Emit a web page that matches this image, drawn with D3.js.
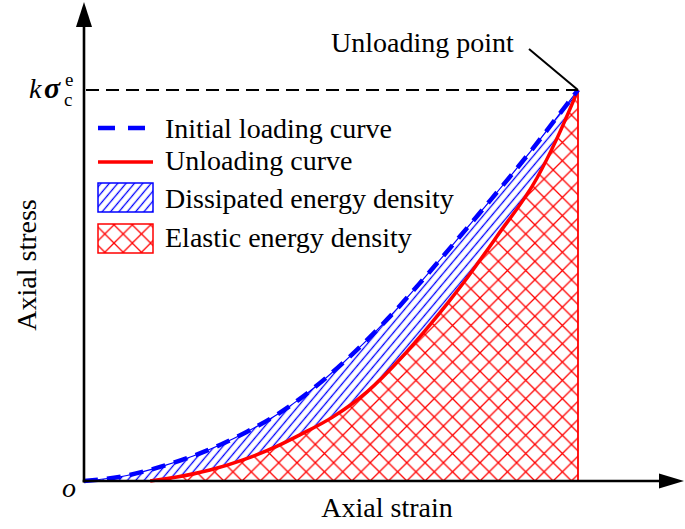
<!DOCTYPE html>
<html><head><meta charset="utf-8">
<script src="https://cdn.jsdelivr.net/npm/d3@7"></script>
<style>body{margin:0;background:#fff}svg{display:block}text{font-family:"Liberation Serif","Times New Roman",serif;fill:#000}</style>
</head><body><svg id="c" width="685" height="529"></svg>
<script>
// Data (normalised strain / stress, unloading point = 100,100)
const loadStrain = [0, 8.7, 15.4, 22.1, 27.5, 33.0, 39.1, 43.7, 49.2, 55.3, 59.3, 64.0, 68.6, 72.7, 80.8, 89.7, 97.8, 100];
const loadStress = [0, 1.4, 3.6, 6.4, 9.2, 12.6, 17.0, 21.0, 26.6, 33.6, 38.6, 44.9, 51.5, 57.5, 69.6, 83.2, 96.4, 100];
const unloadStrain = [13.4, 18.8, 25.5, 32.2, 39.1, 43.7, 50.4, 57.3, 64.0, 69.4, 73.5, 76.7, 83.6, 91.7, 95.7, 100];
const unloadStress = [0, 1.0, 2.8, 5.4, 8.9, 11.8, 16.4, 22.8, 31.2, 39.0, 45.3, 50.5, 62.6, 77.5, 87.5, 100];
const legendLabels = ["Initial loading curve", "Unloading curve", "Dissipated energy density", "Elastic energy density"];
const peakStrain = 100, peakStress = 100;

const svg = d3.select("#c");
const x = d3.scaleLinear().domain([0, 100]).range([84, 578]);
const y = d3.scaleLinear().domain([0, 100]).range([481, 90]);
const BLUE = "#0000ff", RED = "#ff0000";

const defs = svg.append("defs");
const hb = defs.append("pattern").attr("id", "hb").attr("patternUnits", "userSpaceOnUse")
  .attr("width", 6.4).attr("height", 10).attr("patternTransform", "rotate(40)");
hb.append("line").attr("x1", 3.2).attr("x2", 3.2).attr("y1", -1).attr("y2", 11)
  .attr("stroke", BLUE).attr("stroke-width", 1.3);
const P = 18.3;
const hr = defs.append("pattern").attr("id", "hr").attr("patternUnits", "userSpaceOnUse")
  .attr("width", P).attr("height", P).attr("x", 498.3).attr("y", 481);
hr.append("rect").attr("width", P).attr("height", P).attr("fill", "#fff");
hr.append("path").attr("d", `M0,0L${P},${P}M0,${P}L${P},0M-1,1L1,-1M${P-1},${P+1}L${P+1},${P-1}`)
  .attr("stroke", RED).attr("stroke-width", 1.3).attr("fill", "none");

const loadPts = loadStrain.map((s, i) => [s, loadStress[i]]);
const unloadPts = unloadStrain.map((s, i) => [s, unloadStress[i]]);
const line = d3.line().x(d => x(d[0])).y(d => y(d[1])).curve(d3.curveMonotoneX);
const area = d3.area().x(d => x(d[0])).y0(y(0)).y1(d => y(d[1])).curve(d3.curveMonotoneX);

// dissipated (under loading curve)
svg.append("path").attr("d", area(loadPts)).attr("fill", "url(#hb)");
svg.append("path").attr("d", line(loadPts)).attr("fill", "none").attr("stroke", BLUE).attr("stroke-width", 1.2);
// elastic (under unloading curve)
svg.append("path").attr("d", area(unloadPts)).attr("fill", "url(#hr)");
svg.append("line").attr("x1", x(peakStrain)).attr("x2", x(peakStrain)).attr("y1", y(peakStress)).attr("y2", y(0))
  .attr("stroke", RED).attr("stroke-width", 1.8);

// curves
svg.append("path").attr("d", line(unloadPts)).attr("fill", "none").attr("stroke", RED).attr("stroke-width", 3.5);
svg.append("path").attr("d", line(loadPts)).attr("fill", "none").attr("stroke", BLUE).attr("stroke-width", 4.5)
  .attr("stroke-dasharray", "14,9");

// dashed peak line
svg.append("line").attr("x1", x(0) + 2).attr("x2", x(peakStrain)).attr("y1", y(peakStress)).attr("y2", y(peakStress))
  .attr("stroke", "#000").attr("stroke-width", 2).attr("stroke-dasharray", "13,7");

// axes
svg.append("line").attr("x1", x(0)).attr("x2", x(0)).attr("y1", y(0) + 1.5).attr("y2", 24).attr("stroke", "#000").attr("stroke-width", 2.6);
svg.append("path").attr("d", `M${x(0)},2L${x(0) - 8},27L${x(0) + 8},27Z`).attr("fill", "#000");
svg.append("line").attr("x1", x(0) - 1.3).attr("x2", 662).attr("y1", y(0)).attr("y2", y(0)).attr("stroke", "#000").attr("stroke-width", 2.6);
svg.append("path").attr("d", `M684,${y(0)}L659,${y(0) - 7.5}L659,${y(0) + 7.5}Z`).attr("fill", "#000");

// leader
svg.append("line").attr("x1", 529).attr("y1", 49).attr("x2", x(peakStrain)).attr("y2", y(peakStress))
  .attr("stroke", "#000").attr("stroke-width", 2);
svg.append("text").attr("x", 331).attr("y", 52).attr("font-size", 28).text("Unloading point");

// labels
svg.append("text").attr("x", 387).attr("y", 517).attr("font-size", 28).attr("text-anchor", "middle").text("Axial strain");
svg.append("text").attr("transform", "translate(36,265) rotate(-90)").attr("font-size", 28).attr("text-anchor", "middle").text("Axial stress");
svg.append("text").attr("x", 62).attr("y", 497).attr("font-size", 28).attr("font-style", "italic").text("o");
svg.append("text").attr("x", 29).attr("y", 98).attr("font-size", 28).attr("font-style", "italic").text("k");
svg.append("text").attr("x", 44).attr("y", 98).attr("font-size", 30).attr("font-style", "italic").attr("font-weight", "bold").text("σ");
svg.append("text").attr("x", 64).attr("y", 106).attr("font-size", 19).text("c");
svg.append("text").attr("x", 65).attr("y", 86).attr("font-size", 19).text("e");

// legend
const lx = 98, lw = 55, tx = 165;
svg.append("line").attr("x1", lx).attr("x2", lx + lw).attr("y1", 128).attr("y2", 128)
  .attr("stroke", BLUE).attr("stroke-width", 4.5).attr("stroke-dasharray", "17,13");
svg.append("line").attr("x1", lx).attr("x2", lx + lw).attr("y1", 162).attr("y2", 162)
  .attr("stroke", RED).attr("stroke-width", 3.5);
svg.append("rect").attr("x", lx).attr("y", 183).attr("width", lw).attr("height", 29)
  .attr("fill", "url(#hb)").attr("stroke", BLUE).attr("stroke-width", 1.5);
svg.append("rect").attr("x", lx).attr("y", 224).attr("width", lw).attr("height", 29)
  .attr("fill", "url(#hr)").attr("stroke", RED).attr("stroke-width", 1.5);
const ly = [138, 170, 208, 247];
legendLabels.forEach((t, i) => svg.append("text").attr("x", tx).attr("y", ly[i]).attr("font-size", 28).text(t));
</script></body></html>
